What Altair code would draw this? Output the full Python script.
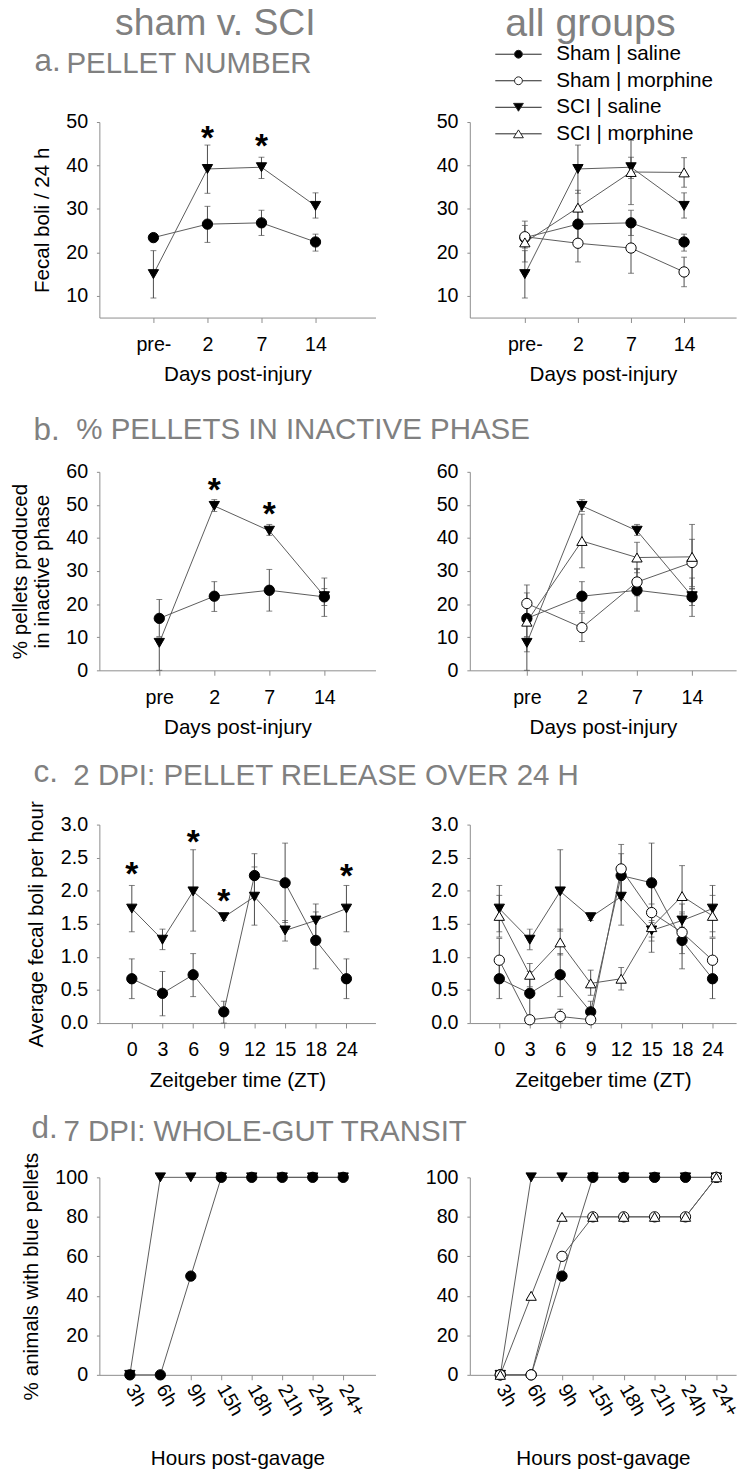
import altair as alt
import pandas as pd

FONT = "Liberation Sans"
HEAD = "#808080"
AXC = "#8c8c8c"
LINEC = "#5a5a5a"
ERRC = "#4a4a4a"

GROUPS = ["Sham | saline", "Sham | morphine", "SCI | saline", "SCI | morphine"]
DRAW = {"SCI | saline": 0, "Sham | saline": 1, "Sham | morphine": 2, "SCI | morphine": 3}
SHAPES = ["circle", "circle", "triangle-down", "triangle-up"]
FILLS = ["black", "white", "black", "white"]
LEG_PATHS = [
    "M-5.9,0H-1M1,0H5.9M-1,0A1,1,0,1,1,1,0A1,1,0,1,1,-1,0Z",
    "M-5.9,0H-1M1,0H5.9M-1,0A1,1,0,1,1,1,0A1,1,0,1,1,-1,0Z",
    "M-5.9,0H-0.6M0.6,0H5.9M-1.25,-1L1.25,-1L0,1Z",
    "M-5.9,0H-0.62M0.62,0H5.9M-1.25,1L1.25,1L0,-1Z",
]

# ---------- a. pellet number ----------
A_LABELS = ["", "pre-", "2", "7", "14"]
A_SHAM_SAL = [23.4, 26.5, 26.8, 22.4]
A_SHAM_SAL_LO = [22.8, 22.3, 23.9, 20.3]
A_SHAM_SAL_HI = [24.0, 30.6, 29.7, 24.2]
A_SHAM_MOR = [23.6, 22.1, 21.0, 15.5]
A_SHAM_MOR_LO = [21.0, 17.8, 15.2, 12.1]
A_SHAM_MOR_HI = [26.2, 26.2, 26.8, 18.9]
A_SCI_SAL = [15.0, 39.2, 39.6, 30.7]
A_SCI_SAL_LO = [9.5, 33.6, 37.0, 27.9]
A_SCI_SAL_HI = [20.4, 44.7, 41.9, 33.7]
A_SCI_MOR = [22.3, 30.3, 38.5, 38.4]
A_SCI_MOR_LO = [17.8, 26.3, 31.0, 35.0]
A_SCI_MOR_HI = [27.2, 34.3, 45.8, 41.8]
A_STAR_POS = [2, 3]
A_STAR_Y = [48.3, 46.5]

# ---------- b. % pellets in inactive phase ----------
B_LABELS = ["", "pre", "2", "7", "14"]
B_SHAM_SAL = [15.7, 22.4, 24.2, 22.2]
B_SHAM_SAL_LO = [10.2, 17.8, 17.9, 19.6]
B_SHAM_SAL_HI = [21.4, 26.8, 30.5, 24.7]
B_SHAM_MOR = [20.2, 12.9, 26.7, 32.6]
B_SHAM_MOR_LO = [14.5, 8.7, 22.5, 25.3]
B_SHAM_MOR_HI = [25.8, 17.3, 30.8, 39.6]
B_SCI_SAL = [8.3, 49.7, 42.2, 22.4]
B_SCI_SAL_LO = [0.0, 48.0, 40.8, 16.3]
B_SCI_SAL_HI = [9.8, 51.6, 44.1, 27.9]
B_SCI_MOR = [14.7, 39.1, 34.1, 34.3]
B_SCI_MOR_LO = [5.6, 31.0, 29.5, 24.6]
B_SCI_MOR_HI = [23.4, 47.2, 38.7, 44.1]
B_STAR_POS = [2, 3]
B_STAR_Y = [57.0, 49.8]

# ---------- c. 2 DPI pellet release over 24 h ----------
C_LABELS = ["0", "3", "6", "9", "12", "15", "18", "24"]
C_SHAM_SAL = [0.67, 0.45, 0.73, 0.17, 2.23, 2.12, 1.25, 0.67]
C_SHAM_SAL_LO = [0.37, 0.11, 0.40, 0.0, 1.90, 1.52, 0.82, 0.37]
C_SHAM_SAL_HI = [0.97, 0.78, 1.05, 0.33, 2.56, 2.72, 1.68, 0.97]
C_SHAM_MOR = [0.95, 0.05, 0.10, 0.05, 2.33, 1.67, 1.37, 0.95]
C_SHAM_MOR_LO = [0.62, 0.0, 0.0, 0.0, 1.95, 1.30, 1.05, 0.62]
C_SHAM_MOR_HI = [1.28, 0.10, 0.21, 0.10, 2.70, 2.05, 1.65, 1.28]
C_SCI_SAL = [1.73, 1.26, 1.99, 1.60, 1.91, 1.40, 1.55, 1.73]
C_SCI_SAL_LO = [1.38, 1.11, 1.39, 1.55, 1.48, 1.24, 1.30, 1.38]
C_SCI_SAL_HI = [2.08, 1.42, 2.62, 1.66, 2.36, 1.55, 1.80, 2.08]
C_SCI_MOR = [1.62, 0.73, 1.22, 0.60, 0.67, 1.45, 1.92, 1.62]
C_SCI_MOR_LO = [1.30, 0.55, 1.03, 0.42, 0.50, 1.07, 1.45, 1.30]
C_SCI_MOR_HI = [1.93, 0.90, 1.42, 0.80, 0.84, 1.80, 2.38, 1.93]
C_STAR_POS = [0, 2, 3, 7]
C_STAR_Y = [2.38, 2.87, 1.98, 2.35]

# ---------- d. 7 DPI whole-gut transit ----------
D_LABELS = ["3h", "6h", "9h", "15h", "18h", "21h", "24h", "24+"]
D_SHAM_SAL = [0, 0, 50, 100, 100, 100, 100, 100]
D_SHAM_MOR = [0, 0, 60, 80, 80, 80, 80, 100]
D_SCI_SAL = [0, 100, 100, 100, 100, 100, 100, 100]
D_SCI_MOR = [0, 40, 80, 80, 80, 80, 80, 100]


def make_df(start, series):
    rows = []
    for g, vals, lo, hi in series:
        for i, v in enumerate(vals):
            rows.append({
                "group": g, "pos": start + i, "value": v,
                "lo": lo[i] if lo is not None else v,
                "hi": hi[i] if hi is not None else v,
                "draw": DRAW[g],
            })
    return pd.DataFrame(rows)


def panel(df, xdom, xvals, labels, ydom, yvals, yfmt, w, h, xtitle, ytitle,
          ytitle_props=None, stars=None, angle=0, title=None, legend=None, err=True):
    lab = "[" + ",".join("'%s'" % s for s in labels) + "][datum.value]"
    xaxis = alt.Axis(values=xvals, labelExpr=lab, title=xtitle, labelAngle=angle,
                     labelAlign="left" if angle else "center",
                     labelBaseline="middle" if angle else "top",
                     labelPadding=6 if angle else 12.5,
                     titlePadding=29 if angle else 10)
    yprops = dict(values=yvals, format=yfmt, title=ytitle)
    if ytitle_props:
        yprops.update(ytitle_props)
    yaxis = alt.Axis(**yprops)

    def X(f):
        return alt.X(f + ":Q", scale=alt.Scale(domain=xdom, nice=False, zero=False), axis=xaxis)

    def Y(f):
        return alt.Y(f + ":Q", scale=alt.Scale(domain=ydom, nice=False, zero=False), axis=yaxis)

    base = alt.Chart(df)
    layers = []
    if err:
        layers.append(base.mark_rule(color=ERRC, strokeWidth=1).encode(
            x=X("pos"), y=Y("lo"), y2="hi:Q"))
        layers.append(base.transform_fold(["lo", "hi"], as_=["end", "cap"]).mark_tick(
            orient="horizontal", size=6, thickness=1, color=ERRC).encode(
            x=X("pos"), y=Y("cap")))
    layers.append(base.mark_line(color=LINEC, strokeWidth=1).encode(
        x=X("pos"), y=Y("value"), detail="group:N", order="pos:Q"))
    layers.append(base.mark_point(stroke="black", strokeWidth=1, opacity=1, fillOpacity=1, size=110).encode(
        x=X("pos"), y=Y("value"),
        shape=alt.Shape("group:N", scale=alt.Scale(domain=GROUPS, range=SHAPES), legend=None),
        fill=alt.Fill("group:N", scale=alt.Scale(domain=GROUPS, range=FILLS), legend=None),
        order=alt.Order("draw:Q")))
    if stars is not None:
        sdf = pd.DataFrame({"pos": stars[0], "value": stars[1]})
        layers.append(alt.Chart(sdf).mark_text(
            text="*", fontSize=34, fontWeight="bold", font=FONT, color="black",
            baseline="alphabetic", dy=20).encode(x=X("pos"), y=Y("value")))
    if legend is not None:
        layers.append(base.transform_filter("false").mark_point(
            filled=False, strokeWidth=1, opacity=1, fillOpacity=1).encode(
            shape=alt.Shape("group:N", scale=alt.Scale(domain=GROUPS, range=LEG_PATHS), legend=legend),
            fill=alt.Fill("group:N", scale=alt.Scale(domain=GROUPS, range=FILLS), legend=legend),
            stroke=alt.Stroke("group:N", scale=alt.Scale(domain=GROUPS, range=["#222222"] * 4), legend=legend)))
    ch = alt.layer(*layers).properties(width=w, height=h)
    if title is not None:
        ch = ch.properties(title=title)
    if legend is not None:
        ch = ch.resolve_scale(shape="independent", fill="independent", stroke="independent")
    return ch


def letter_title(letter, dx, dy):
    return alt.TitleParams(text=letter, anchor="start", frame="group", dx=dx, dy=dy,
                           fontSize=32, fontWeight="normal", color=HEAD, font=FONT,
                           baseline="alphabetic", offset=0)


def heading(tx, ty):
    return dict(titleAngle=0, titleX=tx, titleY=ty, titleAlign="left", titleBaseline="alphabetic",
                titleFontSize=30, titleColor=HEAD, titleFont=FONT, titleFontWeight="normal")


legend = alt.Legend(orient="none", legendX=39, legendY=-79.5, title=None,
                    symbolSize=64, symbolStrokeWidth=1,
                    labelFontSize=21, labelFont=FONT, labelColor="black",
                    labelOffset=28, rowPadding=5, padding=0)

# data frames
dfa_l = make_df(1, [("SCI | saline", A_SCI_SAL, A_SCI_SAL_LO, A_SCI_SAL_HI),
                    ("Sham | saline", A_SHAM_SAL, A_SHAM_SAL_LO, A_SHAM_SAL_HI)])
dfa_r = make_df(1, [("SCI | saline", A_SCI_SAL, A_SCI_SAL_LO, A_SCI_SAL_HI),
                    ("Sham | saline", A_SHAM_SAL, A_SHAM_SAL_LO, A_SHAM_SAL_HI),
                    ("Sham | morphine", A_SHAM_MOR, A_SHAM_MOR_LO, A_SHAM_MOR_HI),
                    ("SCI | morphine", A_SCI_MOR, A_SCI_MOR_LO, A_SCI_MOR_HI)])
dfb_l = make_df(1, [("SCI | saline", B_SCI_SAL, B_SCI_SAL_LO, B_SCI_SAL_HI),
                    ("Sham | saline", B_SHAM_SAL, B_SHAM_SAL_LO, B_SHAM_SAL_HI)])
dfb_r = make_df(1, [("SCI | saline", B_SCI_SAL, B_SCI_SAL_LO, B_SCI_SAL_HI),
                    ("Sham | saline", B_SHAM_SAL, B_SHAM_SAL_LO, B_SHAM_SAL_HI),
                    ("Sham | morphine", B_SHAM_MOR, B_SHAM_MOR_LO, B_SHAM_MOR_HI),
                    ("SCI | morphine", B_SCI_MOR, B_SCI_MOR_LO, B_SCI_MOR_HI)])
dfc_l = make_df(0, [("SCI | saline", C_SCI_SAL, C_SCI_SAL_LO, C_SCI_SAL_HI),
                    ("Sham | saline", C_SHAM_SAL, C_SHAM_SAL_LO, C_SHAM_SAL_HI)])
dfc_r = make_df(0, [("SCI | saline", C_SCI_SAL, C_SCI_SAL_LO, C_SCI_SAL_HI),
                    ("Sham | saline", C_SHAM_SAL, C_SHAM_SAL_LO, C_SHAM_SAL_HI),
                    ("Sham | morphine", C_SHAM_MOR, C_SHAM_MOR_LO, C_SHAM_MOR_HI),
                    ("SCI | morphine", C_SCI_MOR, C_SCI_MOR_LO, C_SCI_MOR_HI)])
dfd_l = make_df(0, [("SCI | saline", D_SCI_SAL, None, None),
                    ("Sham | saline", D_SHAM_SAL, None, None)])
dfd_r = make_df(0, [("SCI | saline", D_SCI_SAL, None, None),
                    ("Sham | saline", D_SHAM_SAL, None, None),
                    ("Sham | morphine", D_SHAM_MOR, None, None),
                    ("SCI | morphine", D_SCI_MOR, None, None)])

AB_X = [1, 2, 3, 4]
C_X = list(range(8))
WL, WR = 281, 271

pa_l = panel(dfa_l, [0, 5.11], AB_X, A_LABELS, [5, 50], [10, 20, 30, 40, 50], "d", WL, 199,
             "Days post-injury", "Fecal boli / 24 h", stars=(A_STAR_POS, A_STAR_Y),
             title=letter_title("a.", -66, -9.5))
pa_r = panel(dfa_r, [-0.037, 4.98], AB_X, A_LABELS, [5, 50], [10, 20, 30, 40, 50], "d", WR, 199,
             "Days post-injury", "PELLET NUMBER", ytitle_props=heading(-411, -50.5),
             legend=legend,
             title=alt.TitleParams(text="all groups", anchor="start", frame="group", dx=36, dy=31.5,
                                   fontSize=40, fontWeight="normal", color=HEAD, font=FONT,
                                   baseline="alphabetic", offset=0))
pb_l = panel(dfb_l, [-0.089, 4.93], AB_X, B_LABELS, [0, 60], [0, 10, 20, 30, 40, 50, 60], "d", WL, 202,
             "Days post-injury", ["% pellets produced", "in inactive phase"], stars=(B_STAR_POS, B_STAR_Y),
             title=letter_title("b.", -67, 9.5))
pb_r = panel(dfb_r, [-0.036, 4.80], AB_X, B_LABELS, [0, 60], [0, 10, 20, 30, 40, 50, 60], "d", WR, 202,
             "Days post-injury", "% PELLETS IN INACTIVE PHASE",
             ytitle_props=heading(-401, -33.5))
pc_l = panel(dfc_l, [-1.058, 7.948], C_X, C_LABELS, [0, 3], [0, 0.5, 1, 1.5, 2, 2.5, 3], ".1f", WL, 202,
             "Zeitgeber time (ZT)", "Average fecal boli per hour", stars=(C_STAR_POS, C_STAR_Y),
             title=letter_title("c.", -67, 13))
pc_r = panel(dfc_r, [-0.968, 7.774], C_X, C_LABELS, [0, 3], [0, 0.5, 1, 1.5, 2, 2.5, 3], ".1f", WR, 202,
             "Zeitgeber time (ZT)", "2 DPI: PELLET RELEASE OVER 24 H",
             ytitle_props=heading(-404, -41))
pd_l = panel(dfd_l, [-1, 8.06], C_X, D_LABELS, [0, 100], [0, 20, 40, 60, 80, 100], "d", WL, 201,
             "Hours post-gavage", "% animals with blue pellets", angle=60, err=False,
             title=letter_title("d.", -69, 17.5))
pd_r = panel(dfd_r, [-0.987, 7.64], C_X, D_LABELS, [0, 100], [0, 20, 40, 60, 80, 100], "d", WR, 201,
             "Hours post-gavage", "7 DPI: WHOLE-GUT TRANSIT", angle=60, err=False,
             ytitle_props=heading(-414, -37.5))

chart = alt.concat(
    pa_l, pa_r, pb_l, pb_r, pc_l, pc_r, pd_l, pd_r,
    columns=2, spacing={"row": 157, "column": 96}, bounds="flush",
    title=alt.TitleParams(text="sham v. SCI", anchor="start", frame="group", dx=16, dy=69,
                          fontSize=38, fontWeight="normal", color=HEAD, font=FONT,
                          baseline="alphabetic", offset=0),
).properties(
    padding={"left": 1, "top": -17, "right": 0, "bottom": 0}
).configure(
    font=FONT
).configure_view(
    strokeWidth=0
).configure_axis(
    grid=False, domainColor=AXC, tickColor=AXC, domainWidth=1, tickWidth=1,
    labelFont=FONT, labelFontSize=20, labelColor="black", labelOverlap=False,
    titleFont=FONT, titleFontSize=21, titleFontWeight="normal", titleColor="black",
).configure_axisX(
    tickSize=5
).configure_axisY(
    tickSize=3, labelPadding=9, titlePadding=14, titleLineHeight=22
)

chart.save("out.html", embed_options={"renderer": "svg", "actions": False})
